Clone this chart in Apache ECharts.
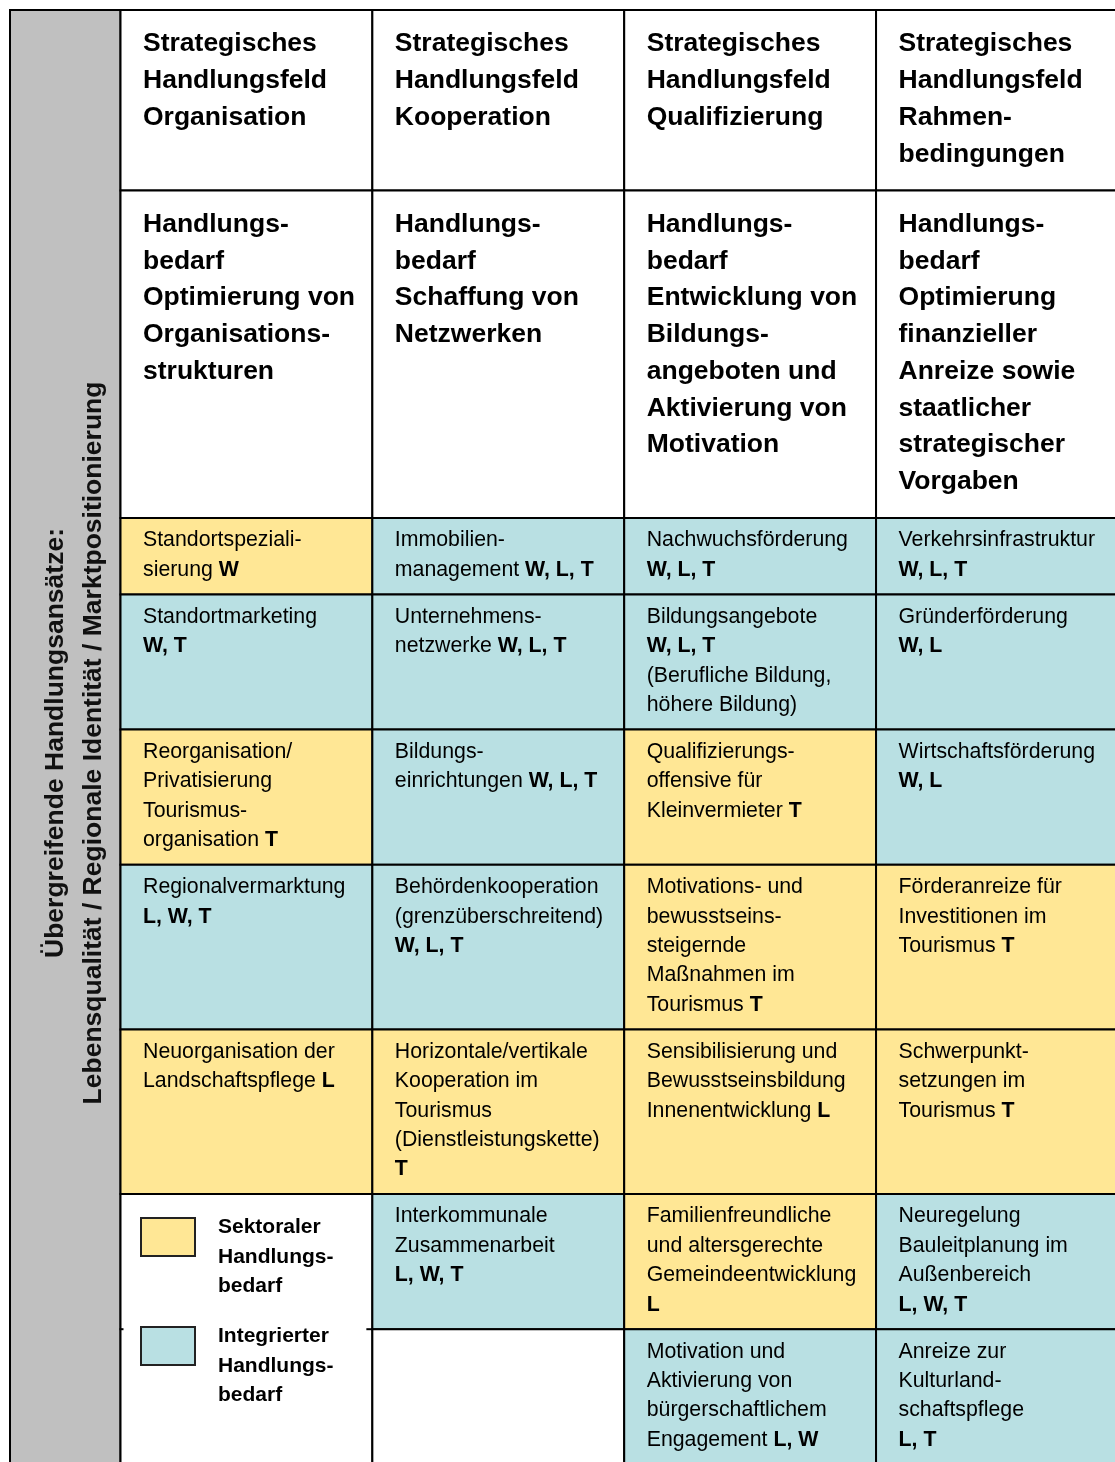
<!DOCTYPE html>
<html><head><meta charset="utf-8">
<script src="https://cdn.jsdelivr.net/npm/echarts@6/dist/echarts.min.js"></script>
<style>html,body{margin:0;padding:0;background:#fff}#c{width:1115px;height:1462px}</style>
</head><body><div id="c"></div>
<script>
// ---------- DATA ----------
const fieldHeads = [
  "Strategisches\nHandlungsfeld\nOrganisation",
  "Strategisches\nHandlungsfeld\nKooperation",
  "Strategisches\nHandlungsfeld\nQualifizierung",
  "Strategisches\nHandlungsfeld\nRahmen-\nbedingungen"
];
const needHeads = [
  "Handlungs-\nbedarf\nOptimierung von\nOrganisations-\nstrukturen",
  "Handlungs-\nbedarf\nSchaffung von\nNetzwerken",
  "Handlungs-\nbedarf\nEntwicklung von\nBildungs-\nangeboten und\nAktivierung von\nMotivation",
  "Handlungs-\nbedarf\nOptimierung\nfinanzieller\nAnreize sowie\nstaatlicher\nstrategischer\nVorgaben"
];
const sideTitle = "Übergreifende Handlungsansätze:\nLebensqualität / Regionale Identität / Marktpositionierung";

const measuresOrganisation = [
  "Standortspeziali-\nsierung {b|W}",
  "Standortmarketing\n{b|W, T}",
  "Reorganisation/\nPrivatisierung\nTourismus-\norganisation {b|T}",
  "Regionalvermarktung\n{b|L, W, T}",
  "Neuorganisation der\nLandschaftspflege {b|L}",
  "", ""
];
const measuresKooperation = [
  "Immobilien-\nmanagement {b|W, L, T}",
  "Unternehmens-\nnetzwerke {b|W, L, T}",
  "Bildungs-\neinrichtungen {b|W, L, T}",
  "Behördenkooperation\n(grenzüberschreitend)\n{b|W, L, T}",
  "Horizontale/vertikale\nKooperation im\nTourismus\n(Dienstleistungskette)\n{b|T}",
  "Interkommunale\nZusammenarbeit\n{b|L, W, T}",
  ""
];
const measuresQualifizierung = [
  "Nachwuchsförderung\n{b|W, L, T}",
  "Bildungsangebote\n{b|W, L, T}\n(Berufliche Bildung,\nhöhere Bildung)",
  "Qualifizierungs-\noffensive für\nKleinvermieter {b|T}",
  "Motivations- und\nbewusstseins-\nsteigernde\nMaßnahmen im\nTourismus {b|T}",
  "Sensibilisierung und\nBewusstseinsbildung\nInnenentwicklung {b|L}",
  "Familienfreundliche\nund altersgerechte\nGemeindeentwicklung\n{b|L}",
  "Motivation und\nAktivierung von\nbürgerschaftlichem\nEngagement {b|L, W}"
];
const measuresRahmen = [
  "Verkehrsinfrastruktur\n{b|W, L, T}",
  "Gründerförderung\n{b|W, L}",
  "Wirtschaftsförderung\n{b|W, L}",
  "Förderanreize für\nInvestitionen im\nTourismus {b|T}",
  "Schwerpunkt-\nsetzungen im\nTourismus {b|T}",
  "Neuregelung\nBauleitplanung im\nAußenbereich\n{b|L, W, T}",
  "Anreize zur\nKulturland-\nschaftspflege\n{b|L, T}"
];
// S = sektoraler, I = integrierter Handlungsbedarf, G = Legende, E = leer
const kindOrganisation   = ['S','I','S','I','S','G','G'];
const kindKooperation    = ['I','I','I','I','S','I','E'];
const kindQualifizierung = ['I','I','S','S','S','S','I'];
const kindRahmen         = ['I','I','I','S','S','I','I'];
const legendLabels = ["Sektoraler\nHandlungs-\nbedarf", "Integrierter\nHandlungs-\nbedarf"];
const legendKinds = ['S','I'];

// ---------- STYLE / LAYOUT ----------
const F = '"Liberation Sans", Arial, Helvetica, sans-serif';
const COLORS = {S:'#FFE795', I:'#B9E0E3', G:'#FFFFFF', E:'#FFFFFF', H:'#FFFFFF', side:'#C0C0C0'};
const HEAD_LH = 36.75, HEAD_PAD = 33.5, BODY_LH = 29.4, BODY_PAD = 17.6;
const COL_PX = 251.85, GRID_LEFT = 120.5, GRID_TOP = 10, VIEW_W = 1115, VIEW_H = 1462;
const SIDE_W = (GRID_LEFT - 10) / COL_PX;

const cols = [measuresOrganisation, measuresKooperation, measuresQualifizierung, measuresRahmen];
const kinds = [kindOrganisation, kindKooperation, kindQualifizierung, kindRahmen];
const nLines = s => s ? s.split('\n').length : 0;

const cells = [];
let y = 0;
[fieldHeads, needHeads].forEach(row => {
  const h = Math.max(...row.map(nLines)) * HEAD_LH + HEAD_PAD;
  row.forEach((t, c) => cells.push({x0:c, x1:c+1, y0:y, y1:y+h, kind:'H', text:t, role:'head'}));
  y += h;
});
const rowTops = [];
for (let r = 0; r < measuresOrganisation.length; r++) {
  const h = Math.max(...cols.map(col => nLines(col[r]))) * BODY_LH + BODY_PAD;
  rowTops.push([y, y + h]);
  y += h;
}
const total = y;
cols.forEach((col, c) => {
  col.forEach((t, r) => {
    const k = kinds[c][r];
    if (k === 'G') return;
    cells.push({x0:c, x1:c+1, y0:rowTops[r][0], y1:rowTops[r][1], kind:k, text:t, role:'body'});
  });
});
const gRows = kindOrganisation.map((k,i)=>k==='G'?i:-1).filter(i=>i>=0);
cells.unshift({x0:0, x1:1, y0:rowTops[gRows[0]][0], y1:rowTops[gRows[gRows.length-1]][1], kind:'G', text:'', role:'legend', split:rowTops[gRows[1]][0]});
cells.unshift({x0:-SIDE_W, x1:0, y0:0, y1:total, kind:'side', text:sideTitle, role:'side'});

const visW = VIEW_W - GRID_LEFT, visH = VIEW_H - GRID_TOP;

function renderItem(params, api) {
  const c = cells[params.dataIndex];
  const p0 = api.coord([api.value(0), api.value(1)]);
  const p1 = api.coord([api.value(2), api.value(3)]);
  const x = p0[0], yy = p0[1], w = p1[0] - p0[0], h = p1[1] - p0[1];
  const ch = [{type:'rect', shape:{x:x, y:yy, width:w, height:h},
    style:{fill:COLORS[c.kind], stroke:'#000', lineWidth:2}}];
  if (c.role === 'head') {
    ch.push({type:'text', x:x+22.5, y:yy+15.6, style:{text:c.text, fill:'#000',
      fontFamily:F, fontSize:26.5, fontWeight:'bold', lineHeight:HEAD_LH,
      align:'left', verticalAlign:'top', textAlign:'left', textVerticalAlign:'top'}});
  } else if (c.role === 'body' && c.text) {
    ch.push({type:'text', x:x+22.5, y:yy+7.8, style:{text:c.text, fill:'#000',
      fontFamily:F, fontSize:21.3, lineHeight:BODY_LH,
      rich:{b:{fontFamily:F, fontSize:21.3, fontWeight:'bold', lineHeight:BODY_LH, fill:'#000', color:'#000'}},
      align:'left', verticalAlign:'top', textAlign:'left', textVerticalAlign:'top'}});
  } else if (c.role === 'side') {
    ch.push({type:'text', x:x+w/2+9, y:743, rotation:Math.PI/2, style:{text:c.text, fill:'#111',
      fontFamily:F, fontSize:26.5, fontWeight:'bold', lineHeight:38,
      align:'center', verticalAlign:'middle', textAlign:'center', textVerticalAlign:'middle'}});
  } else if (c.role === 'legend') {
    const sy = api.coord([0, c.split])[1];
    ch.push({type:'line', shape:{x1:x-1, y1:sy, x2:x+3, y2:sy}, style:{stroke:'#000', lineWidth:2}});
    ch.push({type:'line', shape:{x1:x+w-6, y1:sy, x2:x+w, y2:sy}, style:{stroke:'#000', lineWidth:2}});
    legendLabels.forEach((lab, i) => {
      const top = yy + 24 + i * 109;
      ch.push({type:'rect', shape:{x:x+20.5, y:top, width:54, height:38},
        style:{fill:COLORS[legendKinds[i]], stroke:'#222', lineWidth:2}});
      ch.push({type:'text', x:x+97.5, y:top - 5.3, style:{text:lab, fill:'#000',
        fontFamily:F, fontSize:21, fontWeight:'bold', lineHeight:29.6,
        align:'left', verticalAlign:'top', textAlign:'left', textVerticalAlign:'top'}});
    });
  }
  return {type:'group', children:ch};
}

const chart = echarts.init(document.getElementById('c'), null, {renderer:'canvas'});
chart.setOption({
  animation:false,
  backgroundColor:'#fff',
  grid:{left:GRID_LEFT, top:GRID_TOP, width:visW, height:visH, containLabel:false, outerBoundsMode:'none'},
  xAxis:{type:'value', min:0, max:visW / COL_PX, show:false},
  yAxis:{type:'value', min:0, max:visH, inverse:true, show:false},
  series:[{
    type:'custom', renderItem:renderItem, clip:false, silent:true,
    encode:{x:[0,2], y:[1,3]},
    data:cells.map(c => [c.x0, c.y0, c.x1, c.y1])
  }]
});
</script>
</body></html>
